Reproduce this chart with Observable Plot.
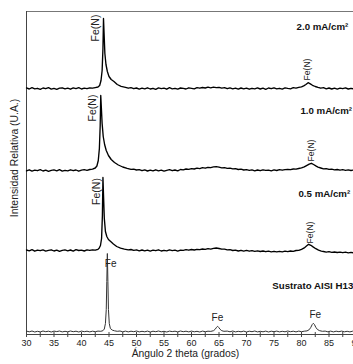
<!DOCTYPE html>
<html>
<head>
<meta charset="utf-8">
<script src="https://cdn.jsdelivr.net/npm/d3@7"></script>
<script src="https://cdn.jsdelivr.net/npm/@observablehq/plot@0.6"></script>
<style>
  html, body { margin: 0; padding: 0; background: #fff; }
</style>
</head>
<body>
<div id="chart"></div>
<script>
// Series names and vertical stacking offsets (intensity units)
const seriesNames = ["2.0 mA/cm²", "1.0 mA/cm²", "0.5 mA/cm²", "Sustrato AISI H13"];
const seriesOffsets = [246, 164, 84, 3];

// [2theta, relative intensity]
const s20 = [
  [30,0.6],[30.5,-0.5],[31,0.9],[31.5,-0.3],[32,0.2],[32.5,-0.8],[33,0.5],[33.5,-0.2],[34,0.8],[34.5,-0.6],
  [35,0.1],[35.5,-0.9],[36,0.4],[36.5,0.7],[37,-0.4],[37.5,0.3],[38,-0.7],[38.5,0.6],[39,-0.1],[39.5,0.9],
  [40,-0.5],[40.5,0.4],[41,-0.2],[41.5,0.6],[42,0.3],[42.5,0.9],[43,1.5],[43.3,3],[43.55,8],[43.75,18],
  [43.9,40],[44.0,70],[44.1,56],[44.25,35],[44.45,24],[44.7,17],[45.0,12],[45.4,9],[45.9,7],[46.5,4],
  [47.2,2.2],[48,1.2],[48.5,0.3],[49,0.8],[49.5,-0.2],[50,0.5],[50.5,-0.6],[51,0.3],[51.5,-0.4],[52,0.7],
  [52.5,-0.5],[53,0.2],[53.5,-0.8],[54,0.6],[54.5,-0.1],[55,0.4],[55.5,-0.7],[56,0.8],[56.5,-0.3],[57,0.2],
  [57.5,-0.6],[58,0.5],[58.5,0.1],[59,-0.5],[59.5,0.7],[60,0.2],[60.5,-0.4],[61,0.9],[61.5,0.3],[62,1.0],
  [62.5,0.5],[63,1.3],[63.5,0.7],[64,1.4],[64.5,0.9],[65,1.2],[65.5,0.4],[66,0.9],[66.5,-0.2],[67,0.6],
  [67.5,-0.4],[68,0.3],[68.5,-0.6],[69,0.5],[69.5,-0.3],[70,0.4],[70.5,-0.7],[71,0.2],[71.5,-0.4],[72,0.6],
  [72.5,-0.5],[73,0.3],[73.5,-0.8],[74,0.5],[74.5,-0.2],[75,0.7],[75.5,-0.4],[76,0.2],[76.5,-0.6],[77,0.6],
  [77.5,0.1],[78,-0.3],[78.5,0.8],[79,0.4],[79.5,1.2],[80,1.6],[80.4,2.6],[80.8,4],[81.2,5.8],[81.6,4.6],
  [82,3.2],[82.5,2],[83,1.1],[83.5,0.3],[84,0.8],[84.5,-0.3],[85,0.5],[85.5,-0.5],[86,0.3],[86.5,-0.6],
  [87,0.4],[87.5,-0.2],[88,0.6],[88.5,-0.5],[89,0.2],[89.5,-0.4],[90,0.3]
];
const s10 = [
  [30,-0.4],[30.5,0.7],[31,-0.6],[31.5,0.3],[32,-0.2],[32.5,0.8],[33,-0.5],[33.5,0.4],[34,-0.8],[34.5,0.2],
  [35,0.6],[35.5,-0.3],[36,0.9],[36.5,-0.6],[37,0.1],[37.5,-0.4],[38,0.7],[38.5,-0.2],[39,0.5],[39.5,-0.7],
  [40,0.3],[40.5,0.8],[41,0.2],[41.5,1.0],[42,1.4],[42.5,2.5],[42.8,4.5],[43.05,10],[43.25,22],[43.4,45],
  [43.5,75],[43.6,64],[43.75,47],[43.95,34],[44.2,26],[44.5,20],[44.9,15],[45.4,11],[46,8],[46.7,5.5],
  [47.5,3.5],[48.3,2.2],[49,1.2],[49.5,1.4],[50,0.5],[50.5,0.9],[51,-0.2],[51.5,0.6],[52,-0.5],[52.5,0.3],
  [53,-0.4],[53.5,0.7],[54,-0.3],[54.5,0.4],[55,-0.6],[55.5,0.2],[56,0.8],[56.5,-0.2],[57,0.5],[57.5,-0.4],
  [58,1.0],[58.5,0.6],[59,1.5],[59.5,1.1],[60,1.9],[60.5,1.5],[61,2.4],[61.5,1.9],[62,2.8],[62.5,2.3],
  [63,3.2],[63.5,2.8],[64,3.6],[64.5,3.9],[65,3.3],[65.5,2.6],[66,2.9],[66.5,2.1],[67,2.4],[67.5,1.6],
  [68,1.8],[68.5,1.0],[69,1.3],[69.5,0.5],[70,0.9],[70.5,0.2],[71,0.6],[71.5,-0.3],[72,0.5],[72.5,-0.2],
  [73,0.7],[73.5,0.1],[74,0.4],[74.5,-0.4],[75,0.6],[75.5,0.0],[76,0.8],[76.5,0.3],[77,0.9],[77.5,1.2],
  [78,0.8],[78.5,1.5],[79,1.3],[79.5,2.0],[80,2.6],[80.5,3.6],[81,5.2],[81.4,6.4],[81.8,7.2],[82.2,6.0],
  [82.6,4.6],[83,3.4],[83.5,2.5],[84,1.6],[84.5,1.9],[85,1.1],[85.5,1.3],[86,0.6],[86.5,1.0],[87,0.4],
  [87.5,0.8],[88,0.2],[88.5,0.6],[89,0.0],[89.5,0.5],[90,0.1]
];
const s05 = [
  [30,0.5],[30.5,-0.4],[31,0.8],[31.5,-0.7],[32,0.3],[32.5,-0.2],[33,0.6],[33.5,-0.6],[34,0.1],[34.5,0.7],
  [35,-0.5],[35.5,0.4],[36,-0.8],[36.5,0.2],[37,0.6],[37.5,-0.3],[38,0.5],[38.5,-0.6],[39,0.8],[39.5,0.0],
  [40,0.4],[40.5,-0.5],[41,0.6],[41.5,0.1],[42,0.7],[42.5,0.3],[43,1.2],[43.2,2.2],[43.45,5],[43.65,12],
  [43.8,35],[43.9,73],[44.0,56],[44.15,32],[44.35,19],[44.6,14],[44.9,11],[45.3,9],[45.8,6.5],[46.4,4],
  [47.1,2.4],[47.8,1.4],[48.5,0.6],[49,1.0],[49.5,0.1],[50,0.6],[50.5,-0.4],[51,0.5],[51.5,-0.3],[52,0.4],
  [52.5,-0.6],[53,0.3],[53.5,-0.2],[54,0.7],[54.5,-0.5],[55,0.2],[55.5,-0.4],[56,0.6],[56.5,-0.1],[57,0.3],
  [57.5,-0.6],[58,0.4],[58.5,0.2],[59,0.8],[59.5,0.3],[60,1.0],[60.5,0.5],[61,1.2],[61.5,0.8],[62,1.5],
  [62.5,1.1],[63,1.8],[63.5,1.4],[64,2.2],[64.5,2.5],[65,2.0],[65.5,1.3],[66,1.4],[66.5,0.6],[67,0.8],
  [67.5,0.0],[68,0.4],[68.5,-0.5],[69,0.2],[69.5,-0.6],[70,0.1],[70.5,-0.7],[71,-0.2],[71.5,-0.9],[72,-0.4],
  [72.5,-1.0],[73,-0.5],[73.5,-1.2],[74,-0.6],[74.5,-1.3],[75,-0.8],[75.5,-1.4],[76,-0.9],[76.5,-1.3],[77,-0.7],
  [77.5,-1.1],[78,-0.5],[78.5,-0.9],[79,0.0],[79.5,0.2],[80,1.2],[80.5,2.6],[80.9,4.4],[81.3,6.2],[81.7,5.2],
  [82.1,3.6],[82.6,1.8],[83.1,0.4],[83.6,-0.6],[84,-1.0],[84.5,-1.6],[85,-1.2],[85.5,-1.9],[86,-1.5],[86.5,-2.0],
  [87,-1.6],[87.5,-2.2],[88,-1.7],[88.5,-2.3],[89,-1.9],[89.5,-2.4],[90,-2.0]
];
const sSub = [
  [30,0.4],[30.5,-0.3],[31,0.5],[31.5,-0.5],[32,0.2],[32.5,-0.4],[33,0.5],[33.5,-0.2],[34,0.3],[34.5,-0.5],
  [35,0.4],[35.5,-0.1],[36,0.5],[36.5,-0.4],[37,0.2],[37.5,-0.3],[38,0.5],[38.5,-0.2],[39,0.3],[39.5,-0.5],
  [40,0.4],[40.5,-0.2],[41,0.3],[41.5,-0.4],[42,0.3],[42.5,-0.2],[43,0.4],[43.5,0.2],[43.9,0.8],[44.15,2.5],
  [44.35,8],[44.5,22],[44.6,50],[44.7,78],[44.8,50],[44.9,22],[45.05,8],[45.25,3],[45.6,1.4],[46,0.7],
  [46.5,0.2],[47,0.5],[47.5,-0.3],[48,0.4],[48.5,-0.4],[49,0.3],[49.5,-0.2],[50,0.5],[50.5,-0.4],[51,0.2],
  [51.5,-0.3],[52,0.4],[52.5,-0.5],[53,0.3],[53.5,-0.2],[54,0.5],[54.5,-0.3],[55,0.2],[55.5,-0.5],[56,0.4],
  [56.5,-0.1],[57,0.3],[57.5,-0.4],[58,0.5],[58.5,-0.2],[59,0.3],[59.5,-0.4],[60,0.4],[60.5,-0.3],[61,0.2],
  [61.5,-0.5],[62,0.4],[62.5,-0.2],[63,0.3],[63.5,0.1],[64,0.8],[64.3,2.2],[64.55,4.2],[64.75,5.2],[64.95,4],
  [65.2,2.2],[65.5,0.8],[65.9,0.2],[66.5,0.4],[67,-0.3],[67.5,0.5],[68,-0.4],[68.5,0.2],[69,-0.3],[69.5,0.4],
  [70,-0.5],[70.5,0.3],[71,-0.2],[71.5,0.5],[72,-0.4],[72.5,0.2],[73,-0.3],[73.5,0.4],[74,-0.5],[74.5,0.3],
  [75,-0.2],[75.5,0.4],[76,-0.4],[76.5,0.2],[77,-0.3],[77.5,0.5],[78,-0.2],[78.5,0.3],[79,-0.4],[79.5,0.4],
  [80,-0.2],[80.5,0.3],[81,0.6],[81.4,1.8],[81.7,4.2],[81.95,7],[82.15,8.2],[82.35,7],[82.6,4.2],[82.9,2],
  [83.3,0.8],[83.8,0.2],[84.3,0.4],[84.8,-0.3],[85.3,0.4],[85.8,-0.4],[86.3,0.3],[86.8,-0.2],[87.3,0.4],[87.8,-0.3],
  [88.3,0.2],[88.8,-0.4],[89.3,0.3],[89.8,-0.2]
];

// Peak annotations: [2theta, intensity, text, font size]
const fenLabels = [
  [42.55, 306.5, "Fe(N)", 10.5], [42.0, 226.5, "Fe(N)", 10.5], [42.7, 143, "Fe(N)", 10.5],
  [81.1, 265, "Fe(N)", 8.6], [81.8, 184, "Fe(N)", 8.6], [81.6, 102, "Fe(N)", 8.6]
];
const feLabels = [[45.3, 71, "Fe", "start"], [64.7, 17, "Fe", "middle"], [82.5, 20, "Fe", "middle"]];
const seriesLabelPos = [[79.1, 308], [79.8, 224], [79.45, 141], [74.7, 49]];

const xTicksMajor = [30, 35, 40, 45, 50, 55, 60, 65, 70, 75, 80, 85, 90];
const xTicksMinor = [30, 32.5, 35, 37.5, 40, 42.5, 45, 47.5, 50, 52.5, 55, 57.5, 60, 62.5, 65, 67.5, 70, 72.5, 75, 77.5, 80, 82.5, 85, 87.5, 90];
const xTitle = "Ángulo 2 theta (grados)";
const yTitle = "Intensidad Relativa (U.A.)";

const allSeries = [s20, s10, s05, sSub];
const rows = allSeries.flatMap((s, k) =>
  s.map(([t, v]) => ({theta: t, I: v + seriesOffsets[k], s: seriesNames[k], sub: k === 3})));
const seriesLabels = seriesNames.map((n, k) => ({x: seriesLabelPos[k][0], y: seriesLabelPos[k][1], text: n}));

const font = "'Liberation Sans', Arial, Helvetica, sans-serif";
const ink = "#222";

const chart = Plot.plot({
  width: 353,
  height: 364,
  marginLeft: 26,
  marginRight: 0,
  marginTop: 11,
  marginBottom: 30,
  style: {fontFamily: font, background: "#fff", color: ink, overflow: "hidden"},
  x: {domain: [30, 90], range: [26, 356]},
  y: {domain: [0, 323], axis: null},
  marks: [
    Plot.ruleY([323], {stroke: "#777", strokeWidth: 1.2}),
    Plot.ruleY([0], {stroke: "#444", strokeWidth: 1}),
    Plot.ruleX([30], {stroke: "#444", strokeWidth: 1}),
    Plot.axisX({ticks: xTicksMinor, tickSize: 5, dy: -2, tickFormat: () => "", stroke: "#444", label: null}),
    Plot.axisX({ticks: xTicksMajor, tickSize: 0, tickPadding: 5, fontSize: 9, fill: ink, label: null}),
    Plot.line(rows.filter(d => !d.sub), {x: "theta", y: "I", z: "s", stroke: "#000", strokeWidth: 1.35}),
    Plot.line(rows.filter(d => d.sub), {x: "theta", y: "I", z: "s", stroke: "#333", strokeWidth: 1}),
    Plot.text(fenLabels, {x: d => d[0], y: d => d[1], text: d => d[2], fontSize: d => d[3], rotate: -90, fill: ink}),
    Plot.text(feLabels, {x: d => d[0], y: d => d[1], text: d => d[2], textAnchor: d => d[3], fontSize: 10, fill: ink}),
    Plot.text(seriesLabels, {x: "x", y: "y", text: "text", textAnchor: "start", fontSize: 9.7, fontWeight: "bold", fill: "#111"}),
    Plot.text([xTitle], {x: 58.9, frameAnchor: "bottom", dy: 22, fontSize: 10.3, fill: ink}),
    Plot.text([yTitle], {x: 30, y: 176.5, dx: -12, rotate: -90, fontSize: 10.4, fill: ink})
  ]
});
document.getElementById("chart").appendChild(chart);
</script>
</body>
</html>
